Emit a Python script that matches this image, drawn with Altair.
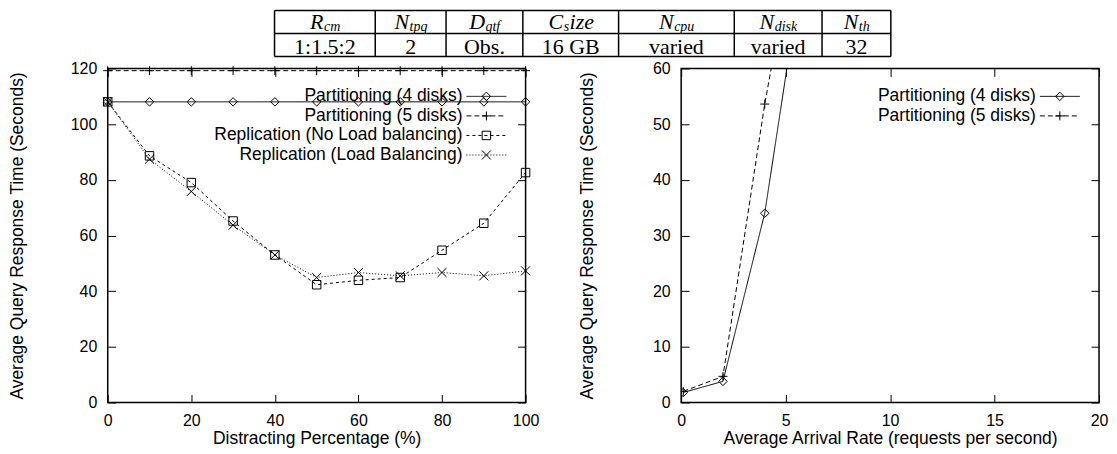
import altair as alt
import pandas as pd

# ---------------- data ----------------
TABLE_MAIN = ["R", "N", "D", "C", "N", "N", "N"]
TABLE_SUB = ["cm", "tpq", "qtf", "s", "cpu", "disk", "th"]
TABLE_TAIL = ["", "", "", "ize", "", "", ""]
TABLE_VALUES = ["1:1.5:2", "2", "Obs.", "16 GB", "varied", "varied", "32"]
TABLE_COL_WIDTHS = [101, 71, 77, 96, 116, 88, 69]

DISTRACT_PCT = [0, 10, 20, 30, 40, 50, 60, 70, 80, 90, 100]
PART4_LEFT = [108, 108, 108, 108, 108, 108, 108, 108, 108, 108, 108]
PART5_LEFT = [119.2, 119.2, 119.2, 119.2, 119.2, 119.2, 119.2, 119.2, 119.2, 119.2, 119.2]
REP_NOLB = [108, 88.6, 79.0, 65.2, 53.0, 42.3, 43.9, 44.9, 54.7, 64.4, 82.6]
REP_LB = [108, 87.4, 75.8, 63.7, 53.0, 44.9, 46.7, 45.5, 46.7, 45.5, 47.3]

ARRIVAL = [0.1, 2, 4, 6]
PART4_RIGHT = [1.8, 3.8, 34.0, 83.0]
PART5_RIGHT = [2.0, 4.7, 53.6, 95.0]

LEFT_LABELS = ["Partitioning (4 disks)", "Partitioning (5 disks)",
               "Replication (No Load balancing)", "Replication (Load Balancing)"]
RIGHT_LABELS = ["Partitioning (4 disks)", "Partitioning (5 disks)"]

LEFT_X_TICKS = [0, 20, 40, 60, 80, 100]
LEFT_Y_TICKS = [0, 20, 40, 60, 80, 100, 120]
RIGHT_X_TICKS = [0, 5, 10, 15, 20]
RIGHT_Y_TICKS = [0, 10, 20, 30, 40, 50, 60]

# ---------------- style ----------------
FONT = "Liberation Sans"
SERIF = "Liberation Serif"
LFS = 16      # tick labels
TFS = 17.5    # axis titles / legend
PW, PH = 419, 335

PLUS = "M-1,0L1,0M0,-1L0,1"
CROSS = "M-1,-1L1,1M-1,1L1,-1"
STYLES = [
    dict(dash=[1, 0], shape="diamond", size=72),
    dict(dash=[5, 3], shape=PLUS, size=81),
    dict(dash=[3, 3], shape="square", size=72),
    dict(dash=[1, 2], shape=CROSS, size=81),
]


def make_axes(xticks, yticks, xtitle, ytitle, title_x):
    xa = alt.Axis(values=xticks, title=xtitle, grid=True, gridColor="black",
                  gridWidth=1, gridDash=[8, PH - 16, 8, 1000], ticks=False,
                  domain=False, labelFlush=False, labelPadding=10,
                  labelFontSize=LFS, titleFontSize=TFS,
                  titleBaseline="middle", titleY=36)
    ya = alt.Axis(values=yticks, title=ytitle, grid=True, gridColor="black",
                  gridWidth=1, gridDash=[8, PW - 16, 8, 1000], ticks=False,
                  domain=False, labelPadding=11, labelFontSize=LFS,
                  titleFontSize=TFS, titleBaseline="middle", titleX=title_x)
    return xa, ya


def panel(xs, series, labels, xdom, ydom, xticks, yticks, xtitle, ytitle, clip, title_x):
    xa, ya = make_axes(xticks, yticks, xtitle, ytitle, title_x)
    X = alt.X("x:Q", scale=alt.Scale(domain=xdom, nice=False, zero=False), axis=xa)
    Y = alt.Y("y:Q", scale=alt.Scale(domain=ydom, nice=False, zero=False), axis=ya)
    layers = []
    for ys, st in zip(series, STYLES):
        df = pd.DataFrame({"x": xs, "y": ys})
        base = alt.Chart(df)
        layers.append(base.mark_line(color="black", strokeWidth=1,
                                     strokeDash=st["dash"], clip=clip).encode(x=X, y=Y))
        layers.append(base.mark_point(shape=st["shape"], size=st["size"], filled=False,
                                      color="black", strokeWidth=1, opacity=1,
                                      clip=clip).encode(x=X, y=Y))
    # legend (gnuplot style: label, then sample)
    for i, (lab, st) in enumerate(zip(labels, STYLES)):
        yy = 28 + i * 19.6
        ld = pd.DataFrame({"label": [lab]})
        lb = alt.Chart(ld)
        layers.append(lb.mark_text(align="right", baseline="middle", font=FONT,
                                   fontSize=TFS, color="black").encode(
            x=alt.value(PW - 63.3), y=alt.value(yy), text="label:N"))
        layers.append(lb.mark_rule(color="black", strokeWidth=1,
                                   strokeDash=st["dash"]).encode(
            x=alt.value(PW - 59.3), x2=alt.value(PW - 19.3), y=alt.value(yy)))
        layers.append(lb.mark_point(shape=st["shape"], size=st["size"], filled=False,
                                    color="black", strokeWidth=1, opacity=1).encode(
            x=alt.value(PW - 39.3), y=alt.value(yy)))
    return alt.layer(*layers).properties(width=PW, height=PH)


left = panel(DISTRACT_PCT, [PART4_LEFT, PART5_LEFT, REP_NOLB, REP_LB], LEFT_LABELS,
             [0, 100], [0, 120], LEFT_X_TICKS, LEFT_Y_TICKS,
             "Distracting Percentage (%)", "Average Query Response Time (Seconds)",
             False, -90)
right = panel(ARRIVAL, [PART4_RIGHT, PART5_RIGHT], RIGHT_LABELS,
              [0, 20], [0, 60], RIGHT_X_TICKS, RIGHT_Y_TICKS,
              "Average Arrival Rate (requests per second)",
              "Average Query Response Time (Seconds)", True, -94)

# ---------------- table ----------------
IT_W = {"R": .611, "N": .667, "D": .722, "C": .667, "c": .444, "m": .722, "t": .278,
        "p": .5, "q": .5, "f": .278, "s": .389, "u": .5, "d": .5, "i": .278,
        "k": .444, "h": .5, "z": .389, "e": .444}
MAIN_FS, SUB_FS = 22, 14


def tw(s, fs):
    return sum(IT_W.get(c, .5) for c in s) * fs


edges = [0]
for w in TABLE_COL_WIDTHS:
    edges.append(edges[-1] + w)
total = edges[-1]
rows = []
for i in range(len(TABLE_MAIN)):
    c = (edges[i] + edges[i + 1]) / 2
    wm, ws, wt = tw(TABLE_MAIN[i], MAIN_FS), tw(TABLE_SUB[i], SUB_FS), tw(TABLE_TAIL[i], MAIN_FS)
    x0 = c - (wm + ws + wt) / 2
    rows.append(dict(c=c, xm=x0, xs=x0 + wm + 0.5, xt=x0 + wm + ws + 1,
                     main=TABLE_MAIN[i], sub=TABLE_SUB[i], tail=TABLE_TAIL[i],
                     val=TABLE_VALUES[i], r0=0.5, r1=1.55))
tdf = pd.DataFrame(rows)
T_LEFT = 167.25   # table offset from the plot origin of the left panel
TX = alt.Scale(domain=[0, total], range=[T_LEFT, T_LEFT + total])
TY = alt.Scale(domain=[0, 2], range=[1, 47])
hl = pd.DataFrame({"y": [0, 1, 2], "x": [0, 0, 0], "x2": [total] * 3})
vl = pd.DataFrame({"x": edges, "y": [0] * len(edges), "y2": [2] * len(edges)})

t_h = alt.Chart(hl).mark_rule(color="black", strokeWidth=1.5).encode(
    x=alt.X("x:Q", scale=TX, axis=None), x2="x2:Q", y=alt.Y("y:Q", scale=TY, axis=None))
t_v = alt.Chart(vl).mark_rule(color="black", strokeWidth=1.5).encode(
    x=alt.X("x:Q", scale=TX, axis=None), y=alt.Y("y:Q", scale=TY, axis=None), y2="y2:Q")
tb = alt.Chart(tdf)
t_main = tb.mark_text(align="left", baseline="middle", font=SERIF, fontStyle="italic",
                      fontSize=MAIN_FS, color="black").encode(
    x=alt.X("xm:Q", scale=TX, axis=None), y=alt.Y("r0:Q", scale=TY, axis=None), text="main:N")
t_sub = tb.mark_text(align="left", baseline="middle", font=SERIF, fontStyle="italic",
                     fontSize=SUB_FS, color="black", dy=5).encode(
    x=alt.X("xs:Q", scale=TX, axis=None), y=alt.Y("r0:Q", scale=TY, axis=None), text="sub:N")
t_tail = tb.mark_text(align="left", baseline="middle", font=SERIF, fontStyle="italic",
                      fontSize=MAIN_FS, color="black").encode(
    x=alt.X("xt:Q", scale=TX, axis=None), y=alt.Y("r0:Q", scale=TY, axis=None), text="tail:N")
t_val = tb.mark_text(align="center", baseline="middle", font=SERIF,
                     fontSize=MAIN_FS, color="black", dy=1).encode(
    x=alt.X("c:Q", scale=TX, axis=None), y=alt.Y("r1:Q", scale=TY, axis=None), text="val:N")

table = alt.layer(t_h, t_v, t_main, t_sub, t_tail, t_val).properties(
    width=T_LEFT + total + 2, height=47, view=alt.ViewBackground(stroke="transparent"))

chart = alt.vconcat(table, alt.hconcat(left, right, spacing=37), spacing=0).properties(
    padding={"left": 0, "top": 0, "right": 0, "bottom": 0}
).configure_view(stroke="black", strokeWidth=1.5).configure_axis(
    labelFont=FONT, labelColor="black",
    titleFont=FONT, titleFontWeight="normal", titleColor="black")

chart.save("out.html", embed_options={"renderer": "svg", "actions": False})
